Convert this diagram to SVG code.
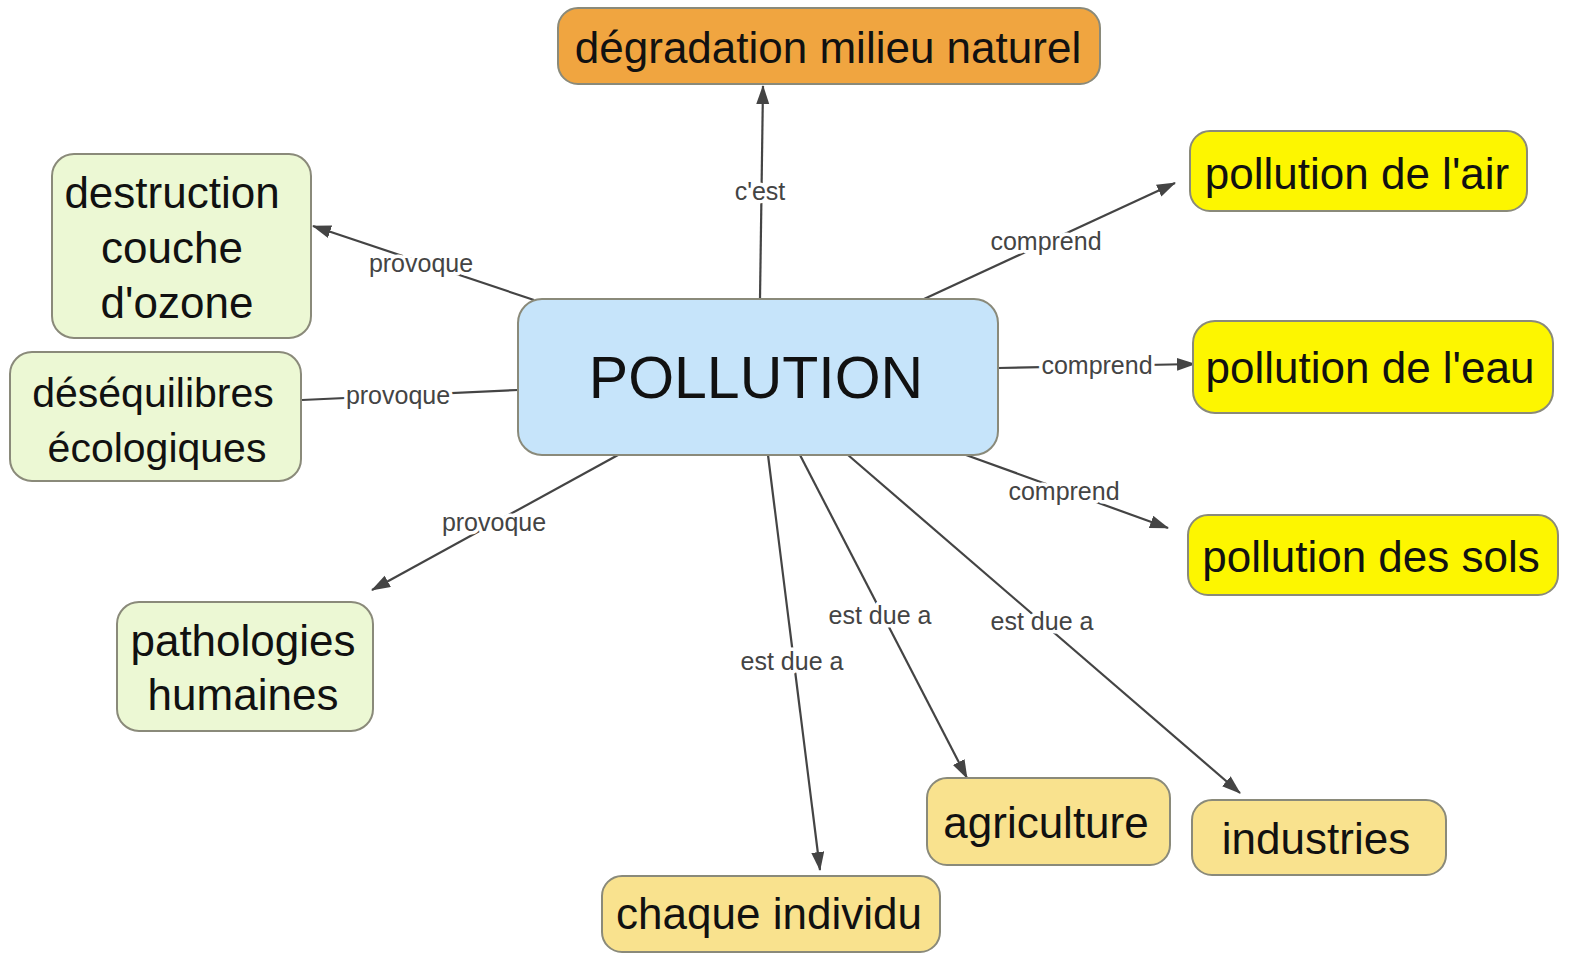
<svg xmlns="http://www.w3.org/2000/svg" width="1576" height="956" viewBox="0 0 1576 956">
<defs>
<marker id="arr" markerUnits="userSpaceOnUse" markerWidth="20" markerHeight="14" refX="18" refY="6.5" orient="auto"><path d="M0,0 L19,6.5 L0,13 z" fill="#444"/></marker>
<style>
.n rect{stroke:#8a8a7a;stroke-width:2}
.t{font-family:"Liberation Sans",Arial,sans-serif;font-size:44px;fill:#111;text-anchor:middle}
.c line{stroke:#444;stroke-width:2.2;fill:none}
.a{marker-end:url(#arr)}
.l{font-family:"Liberation Sans",Arial,sans-serif;font-size:25px;fill:#444;text-anchor:middle;stroke:#fff;stroke-width:7;paint-order:stroke;stroke-linejoin:round}
.orange{fill:#f0a540}.green{fill:#ecf8d4}.blue{fill:#c6e4fa}.yellow{fill:#fdf600}.tan{fill:#f9e28e}
</style>
</defs>
<rect width="1576" height="956" fill="#fff"/>
<g id="connectors" class="c">
<line class="a" x1="760" y1="299" x2="763" y2="86"/>
<line class="a" x1="924" y1="299" x2="1175" y2="183"/>
<line class="a" x1="998" y1="368" x2="1195" y2="364"/>
<line class="a" x1="966" y1="455" x2="1168" y2="528"/>
<line class="a" x1="534" y1="300" x2="313" y2="226"/>
<line x1="518" y1="390" x2="302" y2="400"/>
<line class="a" x1="618" y1="455" x2="372" y2="590"/>
<line class="a" x1="768" y1="455" x2="820" y2="870"/>
<line class="a" x1="800" y1="455" x2="967" y2="778"/>
<line class="a" x1="848" y1="455" x2="1240" y2="793"/>
<text class="l" x="760" y="200">c'est</text>
<text class="l" x="1046" y="250">comprend</text>
<text class="l" x="1097" y="374">comprend</text>
<text class="l" x="1064" y="500">comprend</text>
<text class="l" x="421" y="272">provoque</text>
<text class="l" x="398" y="404">provoque</text>
<text class="l" x="494" y="531">provoque</text>
<text class="l" x="792" y="670">est due a</text>
<text class="l" x="880" y="624">est due a</text>
<text class="l" x="1042" y="630">est due a</text>
</g>
<g id="pollution" class="n"><rect class="blue" x="518" y="299" width="480" height="156" rx="24"/><text class="t" x="756" y="398" style="font-size:59px">POLLUTION</text></g>
<g id="degradation" class="n"><rect class="orange" x="558" y="8" width="542" height="76" rx="20"/><text class="t" x="828" y="63">dégradation milieu naturel</text></g>
<g id="destruction" class="n"><rect class="green" x="52" y="154" width="259" height="184" rx="22"/><text class="t" x="172" y="208">destruction</text><text class="t" x="172" y="263">couche</text><text class="t" x="177" y="318">d'ozone</text></g>
<g id="desequilibres" class="n"><rect class="green" x="10" y="352" width="291" height="129" rx="22"/><text class="t" x="153" y="407" style="font-size:41px">déséquilibres</text><text class="t" x="157" y="462" style="font-size:41px">écologiques</text></g>
<g id="pathologies" class="n"><rect class="green" x="117" y="602" width="256" height="129" rx="22"/><text class="t" x="243" y="656">pathologies</text><text class="t" x="243" y="710">humaines</text></g>
<g id="air" class="n"><rect class="yellow" x="1190" y="131" width="337" height="80" rx="20"/><text class="t" x="1357" y="189">pollution de l'air</text></g>
<g id="eau" class="n"><rect class="yellow" x="1193" y="321" width="360" height="92" rx="22"/><text class="t" x="1370" y="383">pollution de l'eau</text></g>
<g id="sols" class="n"><rect class="yellow" x="1188" y="515" width="370" height="80" rx="20"/><text class="t" x="1371" y="572">pollution des sols</text></g>
<g id="individu" class="n"><rect class="tan" x="602" y="876" width="338" height="76" rx="20"/><text class="t" x="769" y="929">chaque individu</text></g>
<g id="agriculture" class="n"><rect class="tan" x="927" y="778" width="243" height="87" rx="20"/><text class="t" x="1046" y="838">agriculture</text></g>
<g id="industries" class="n"><rect class="tan" x="1192" y="800" width="254" height="75" rx="20"/><text class="t" x="1316" y="854">industries</text></g>
</svg>
